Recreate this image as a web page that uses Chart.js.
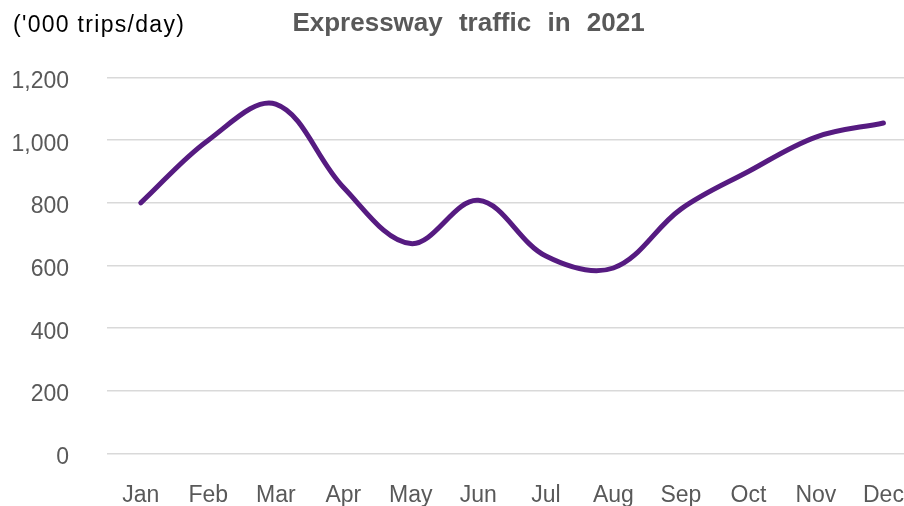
<!DOCTYPE html>
<html>
<head>
<meta charset="utf-8">
<script src="https://cdn.jsdelivr.net/npm/chart.js@4/dist/chart.umd.min.js"></script>
<style>
  html, body { margin: 0; padding: 0; background: #fff; overflow: hidden; }
  #wrap { width: 904px; height: 506px; overflow: hidden; position: relative; }
  canvas { display: block; }
</style>
</head>
<body>
<div id="wrap"><canvas id="c" width="932" height="506"></canvas></div>
<script>
const chartTitle = "Expressway traffic in 2021";
const unitLabel = "('000 trips/day)";
const months = ["Jan","Feb","Mar","Apr","May","Jun","Jul","Aug","Sep","Oct","Nov","Dec"];
const traffic = [800, 1000, 1115, 850, 670, 808, 630, 592, 780, 900, 1010, 1055];
const yMin = 0, yMax = 1200, yStep = 200;

const FONT = "'Liberation Sans', Arial, Helvetica, sans-serif";

const textPlugin = {
  id: 'texts',
  afterDraw(chart) {
    const ctx = chart.ctx;
    ctx.save();
    ctx.textBaseline = 'alphabetic';
    ctx.font = "bold 26px " + FONT;
    ctx.fillStyle = '#595959';
    ctx.textAlign = 'center';
    try { ctx.wordSpacing = '9px'; } catch (e) {}
    ctx.fillText(chartTitle, 468.5, 31);
    try { ctx.wordSpacing = '0px'; } catch (e) {}
    ctx.font = "23px " + FONT;
    ctx.fillStyle = '#000000';
    ctx.textAlign = 'left';
    try { ctx.letterSpacing = '1.3px'; } catch (e) {}
    ctx.fillText(unitLabel, 13, 31.5);
    ctx.restore();
  }
};

new Chart(document.getElementById('c'), {
  type: 'line',
  data: {
    labels: months,
    datasets: [{
      data: traffic,
      borderColor: '#561b81',
      borderWidth: 5,
      pointRadius: 0,
      pointHoverRadius: 0,
      tension: 0.36,
      fill: false,
      borderCapStyle: 'round',
      borderJoinStyle: 'round'
    }]
  },
  options: {
    responsive: false,
    animation: false,
    devicePixelRatio: 1,
    locale: 'en-US',
    layout: { padding: { top: 77.5, right: 3, left: 0, bottom: 0 } },
    plugins: {
      legend: { display: false },
      title: { display: false },
      tooltip: { enabled: false }
    },
    scales: {
      x: {
        offset: true,
        grid: { display: false, drawTicks: false },
        border: { display: false },
        ticks: {
          color: '#595959',
          font: { family: FONT, size: 23 },
          padding: 28,
          maxRotation: 0,
          autoSkip: false
        },
        afterFit(scale) { scale.height = 52.5; }
      },
      y: {
        min: yMin,
        max: yMax,
        grid: { color: '#d9d9d9', lineWidth: 1.5, drawTicks: false },
        border: { display: false },
        ticks: {
          stepSize: yStep,
          color: '#595959',
          font: { family: FONT, size: 23 },
          padding: 38,
          labelOffset: 4
        },
        afterFit(scale) { scale.width = 107; }
      }
    }
  },
  plugins: [textPlugin]
});
</script>
</body>
</html>
